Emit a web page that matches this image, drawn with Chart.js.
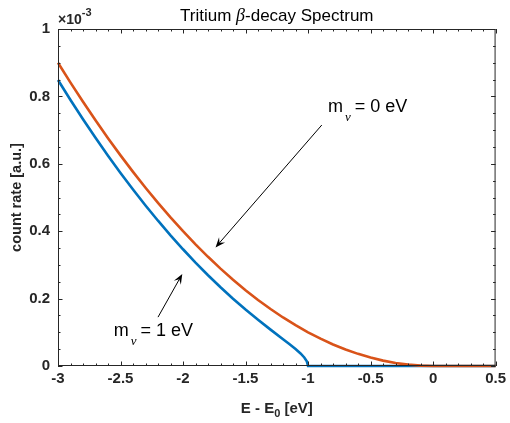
<!DOCTYPE html>
<html>
<head>
<meta charset="utf-8">
<script src="https://cdn.jsdelivr.net/npm/chart.js@4"></script>
<style>
  html, body { margin: 0; padding: 0; background: #fff; }
  #wrap { width: 510px; height: 423px; }
</style>
</head>
<body>
<div id="wrap"><canvas id="spectrum" width="510" height="423"></canvas></div>
<script>
// Energy relative to the endpoint [eV] and count rate [1e-3 a.u.]
const energyM0 = [-3.0, -2.9, -2.8, -2.7, -2.6, -2.5, -2.4, -2.3, -2.2, -2.1,
                  -2.0, -1.9, -1.8, -1.7, -1.6, -1.5, -1.4, -1.3, -1.2, -1.1,
                  -1.0, -0.9, -0.8, -0.7, -0.6, -0.5, -0.4, -0.3, -0.2, -0.1,
                  0.0, 0.1, 0.2, 0.3, 0.4, 0.5];
const rateM0 = [0.900, 0.841, 0.784, 0.729, 0.676, 0.625, 0.576, 0.529, 0.484, 0.441,
                0.400, 0.361, 0.324, 0.289, 0.256, 0.225, 0.196, 0.169, 0.144, 0.121,
                0.100, 0.081, 0.064, 0.049, 0.036, 0.025, 0.016, 0.009, 0.004, 0.001,
                0, 0, 0, 0, 0, 0];

const energyM1 = [-3.0, -2.9, -2.8, -2.7, -2.6, -2.5, -2.4, -2.3, -2.2, -2.1,
                  -2.0, -1.9, -1.8, -1.7, -1.6, -1.5, -1.4, -1.3, -1.2, -1.15,
                  -1.1, -1.06, -1.03, -1.01, -1.0, -0.5, 0.0, 0.5];
const rateM1 = [0.8485, 0.7894, 0.7323, 0.6772, 0.6240, 0.5728, 0.5236, 0.4764, 0.4311, 0.3878,
                0.3464, 0.3069, 0.2694, 0.2337, 0.1998, 0.1677, 0.1372, 0.1080, 0.0796, 0.0653,
                0.0504, 0.0373, 0.0254, 0.0143, 0, 0, 0, 0];

const xTicks = [-3, -2.5, -2, -1.5, -1, -0.5, 0, 0.5];
const xTickLabels = ["-3", "-2.5", "-2", "-1.5", "-1", "-0.5", "0", "0.5"];
const yTicks = [0, 0.2, 0.4, 0.6, 0.8, 1];
const yTickLabels = ["0", "0.2", "0.4", "0.6", "0.8", "1"];

// annotation arrows: [fromX, fromY, toX, toY] in data units
const arrowM0 = [-0.89, 0.715, -1.74, 0.352];
const arrowM1 = [-2.20, 0.145, -2.006, 0.273];
const labelM0 = { x: -0.84, y: 0.754, mass: "0" };
const labelM1 = { x: -2.555, y: 0.090, mass: "1" };

const AXIS = "#262626";
const SANS = "'Liberation Sans', Arial, Helvetica, sans-serif";
const SERIF = "'Liberation Serif', 'DejaVu Serif', serif";

function toPoints(xs, ys) {
    return xs.map((x, i) => ({ x: x, y: ys[i] }));
}

// draw a row of text pieces with different fonts / offsets
function drawRuns(ctx, x, y, runs, align) {
    let total = 0;
    runs.forEach(r => {
        ctx.font = r.font;
        r.w = ctx.measureText(r.text).width + (r.gap || 0);
        total += r.w;
    });
    let cx = align === "center" ? x - total / 2 : x;
    runs.forEach(r => {
        ctx.font = r.font;
        ctx.fillText(r.text, cx, y + (r.dy || 0));
        cx += r.w;
    });
}

function drawArrow(ctx, x1, y1, x2, y2) {
    const ang = Math.atan2(y2 - y1, x2 - x1);
    const len = 10, half = 4;
    ctx.beginPath();
    ctx.moveTo(x1, y1);
    ctx.lineTo(x2 - Math.cos(ang) * 6, y2 - Math.sin(ang) * 6);
    ctx.stroke();
    ctx.beginPath();
    ctx.moveTo(x2, y2);
    ctx.lineTo(x2 - len * Math.cos(ang) + half * Math.sin(ang), y2 - len * Math.sin(ang) - half * Math.cos(ang));
    ctx.lineTo(x2 - 0.6 * len * Math.cos(ang), y2 - 0.6 * len * Math.sin(ang));
    ctx.lineTo(x2 - len * Math.cos(ang) - half * Math.sin(ang), y2 - len * Math.sin(ang) + half * Math.cos(ang));
    ctx.closePath();
    ctx.fill();
}

const decorations = {
    id: "decorations",
    afterDatasetsDraw(chart) {
        const ctx = chart.ctx;
        const xs = chart.scales.x, ys = chart.scales.y;
        const a = chart.chartArea;
        ctx.save();

        // box
        ctx.strokeStyle = AXIS;
        ctx.lineWidth = 1;
        ctx.strokeRect(a.left + 0.5, a.top + 0.5, a.right - a.left - 1, a.bottom - a.top - 1);

        // inward major + minor ticks on all four sides
        ctx.beginPath();
        for (let i = 0; i <= 35; i++) {
            const v = -3 + i * 0.1;
            const px = Math.round(xs.getPixelForValue(v)) + 0.5;
            const L = i % 5 === 0 ? 4.5 : 2.5;
            ctx.moveTo(px, a.bottom); ctx.lineTo(px, a.bottom - L);
            ctx.moveTo(px, a.top); ctx.lineTo(px, a.top + L);
        }
        for (let i = 0; i <= 20; i++) {
            const v = i * 0.05;
            const py = Math.round(ys.getPixelForValue(v)) + 0.5;
            const L = i % 4 === 0 ? 4.5 : 2.5;
            ctx.moveTo(a.left, py); ctx.lineTo(a.left + L, py);
            ctx.moveTo(a.right, py); ctx.lineTo(a.right - L, py);
        }
        ctx.stroke();

        // title
        ctx.fillStyle = "#000";
        ctx.textBaseline = "alphabetic";
        ctx.textAlign = "left";
        drawRuns(ctx, (a.left + a.right) / 2, 21, [
            { text: "Tritium ", font: "17px " + SANS },
            { text: "β", font: "italic 18px " + SERIF },
            { text: "-decay Spectrum", font: "17px " + SANS }
        ], "center");

        // exponent label
        ctx.fillStyle = AXIS;
        drawRuns(ctx, a.left, 24, [
            { text: "×10", font: "bold 14px " + SANS },
            { text: "-3", font: "bold 11px " + SANS, dy: -8 }
        ], "left");

        // x axis title
        drawRuns(ctx, (a.left + a.right) / 2, 413, [
            { text: "E - E", font: "bold 15px " + SANS },
            { text: "0", font: "bold 11px " + SANS, dy: 4 },
            { text: " [eV]", font: "bold 15px " + SANS }
        ], "center");

        // y axis title
        ctx.save();
        ctx.translate(21, (a.top + a.bottom) / 2);
        ctx.rotate(-Math.PI / 2);
        ctx.textAlign = "center";
        ctx.font = "bold 14.5px " + SANS;
        ctx.fillText("count rate [a.u.]", 0, 0);
        ctx.restore();

        // annotations
        ctx.fillStyle = "#000";
        ctx.strokeStyle = "#000";
        ctx.lineWidth = 1;
        [arrowM0, arrowM1].forEach(ar => {
            drawArrow(ctx, xs.getPixelForValue(ar[0]), ys.getPixelForValue(ar[1]),
                      xs.getPixelForValue(ar[2]), ys.getPixelForValue(ar[3]));
        });
        [labelM0, labelM1].forEach(lb => {
            drawRuns(ctx, xs.getPixelForValue(lb.x), ys.getPixelForValue(lb.y), [
                { text: "m", font: "18px " + SANS, gap: 2 },
                { text: "ν", font: "italic 13px " + SERIF, dy: 9, gap: 4 },
                { text: "= " + lb.mass + " eV", font: "18px " + SANS }
            ], "left");
        });
        ctx.restore();
    }
};

new Chart(document.getElementById("spectrum"), {
    type: "scatter",
    data: {
        datasets: [
            {
                label: "m = 0 eV",
                data: toPoints(energyM0, rateM0),
                showLine: true,
                borderColor: "#D95319",
                borderWidth: 2.6,
                pointRadius: 0,
                tension: 0,
                clip: 3,
                order: 0
            },
            {
                label: "m = 1 eV",
                data: toPoints(energyM1, rateM1),
                showLine: true,
                borderColor: "#0072BD",
                borderWidth: 2.6,
                pointRadius: 0,
                tension: 0,
                clip: 3,
                order: 1
            }
        ]
    },
    options: {
        responsive: false,
        animation: false,
        events: [],
        layout: { padding: { top: 29, right: 12, left: 0, bottom: 0 } },
        plugins: {
            legend: { display: false },
            tooltip: { enabled: false }
        },
        scales: {
            x: {
                type: "linear",
                min: -3,
                max: 0.5,
                grid: { display: false, drawTicks: false },
                border: { display: false },
                afterBuildTicks: scale => { scale.ticks = xTicks.map(v => ({ value: v })); },
                afterFit: scale => { scale.height = 57; },
                ticks: {
                    padding: 4,
                    color: AXIS,
                    maxRotation: 0,
                    font: { family: SANS, size: 15, weight: "bold" },
                    callback: (value, index) => xTickLabels[index]
                }
            },
            y: {
                type: "linear",
                min: 0,
                max: 1,
                grid: { display: false, drawTicks: false },
                border: { display: false },
                afterBuildTicks: scale => { scale.ticks = yTicks.map(v => ({ value: v })); },
                afterFit: scale => { scale.width = 58; },
                ticks: {
                    padding: 8,
                    color: AXIS,
                    font: { family: SANS, size: 15, weight: "bold" },
                    callback: (value, index) => yTickLabels[index]
                }
            }
        }
    },
    plugins: [decorations]
});
</script>
</body>
</html>
